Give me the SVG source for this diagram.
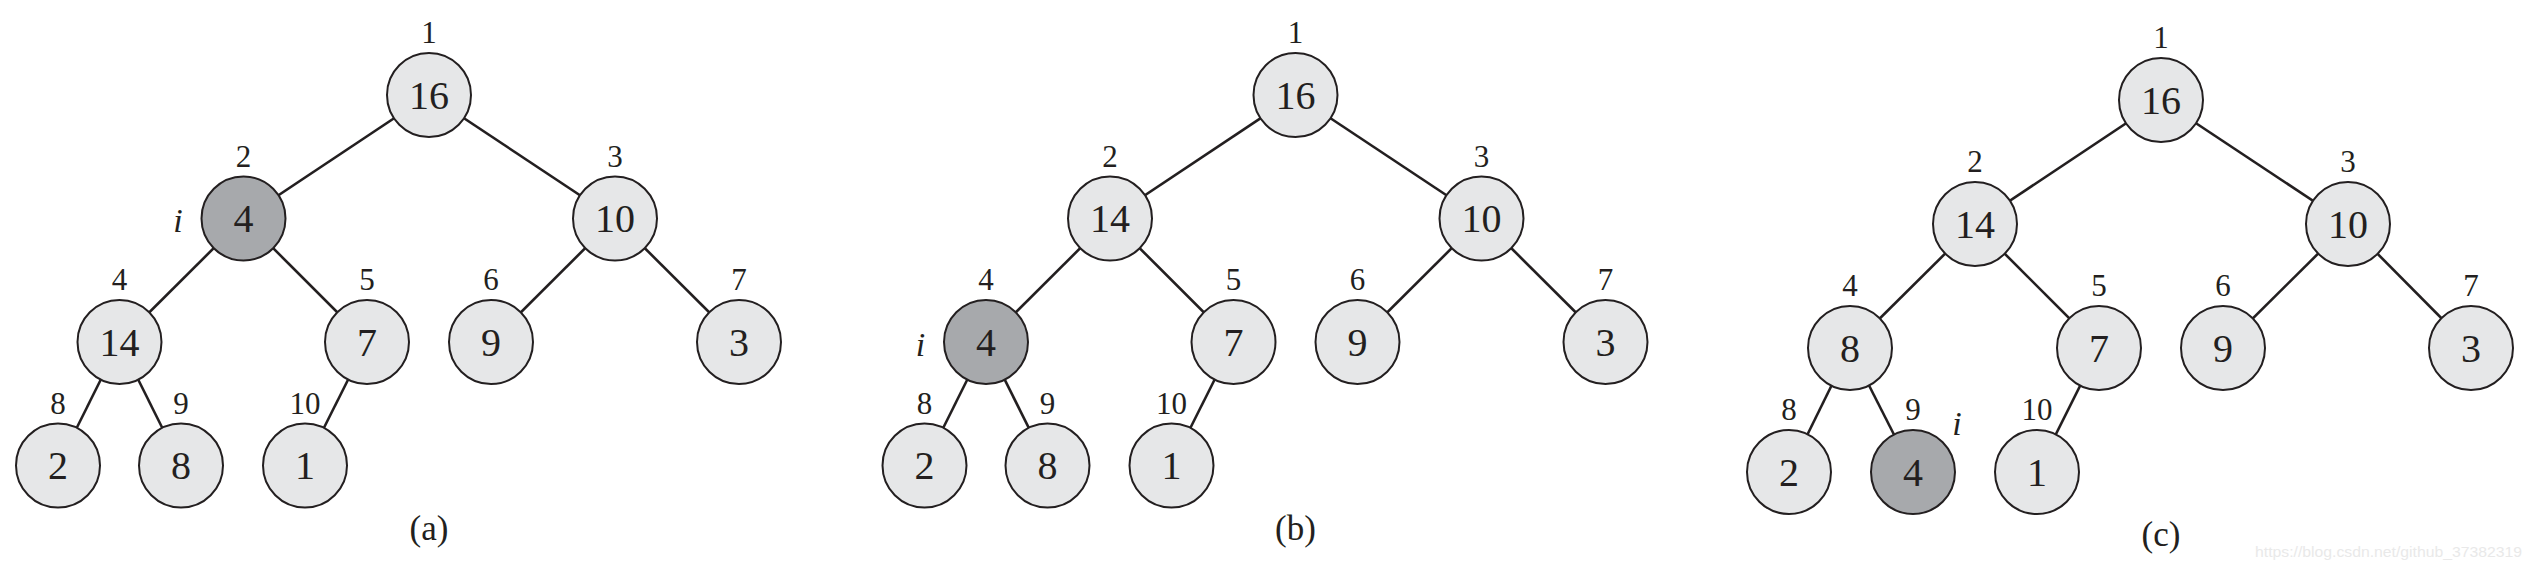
<svg xmlns="http://www.w3.org/2000/svg" width="2533" height="571" viewBox="0 0 2533 571">
<style>
.e{stroke:#231f20;stroke-width:2.6;fill:none}
.c{fill:#e6e7e8;stroke:#231f20;stroke-width:2}
.d{fill:#a7a9ac;stroke:#231f20;stroke-width:2}
.v{font-family:"Liberation Serif",serif;font-size:40px;fill:#231f20;text-anchor:middle}
.l{font-family:"Liberation Serif",serif;font-size:31px;fill:#231f20;text-anchor:middle}
.i{font-family:"Liberation Serif",serif;font-size:34px;font-style:italic;fill:#231f20;text-anchor:middle}
.cap{font-family:"Liberation Serif",serif;font-size:35px;fill:#231f20;text-anchor:middle}
.w{font-family:"Liberation Sans",sans-serif;font-size:15px;fill:#e9e9e9}
</style>
<rect width="2533" height="571" fill="#ffffff"/>

<!-- Tree (a) -->
<g id="tree-a">
<g id="a-connectors">
<line class="e" x1="429" y1="95" x2="243.5" y2="218.5"/>
<line class="e" x1="429" y1="95" x2="615" y2="218.5"/>
<line class="e" x1="243.5" y1="218.5" x2="119.5" y2="342"/>
<line class="e" x1="243.5" y1="218.5" x2="367" y2="342"/>
<line class="e" x1="615" y1="218.5" x2="491" y2="342"/>
<line class="e" x1="615" y1="218.5" x2="739" y2="342"/>
<line class="e" x1="119.5" y1="342" x2="58" y2="465.5"/>
<line class="e" x1="119.5" y1="342" x2="181" y2="465.5"/>
<line class="e" x1="367" y1="342" x2="305" y2="465.5"/>
</g>
<g id="a-n1"><circle class="c" cx="429" cy="95" r="42"/><text class="v" x="429" y="108.5">16</text><text class="l" x="429" y="43">1</text></g>
<g id="a-n2"><circle class="d" cx="243.5" cy="218.5" r="42"/><text class="v" x="243.5" y="232">4</text><text class="l" x="243.5" y="166.5">2</text><text class="i" x="178" y="232">i</text></g>
<g id="a-n3"><circle class="c" cx="615" cy="218.5" r="42"/><text class="v" x="615" y="232">10</text><text class="l" x="615" y="166.5">3</text></g>
<g id="a-n4"><circle class="c" cx="119.5" cy="342" r="42"/><text class="v" x="119.5" y="355.5">14</text><text class="l" x="119.5" y="290">4</text></g>
<g id="a-n5"><circle class="c" cx="367" cy="342" r="42"/><text class="v" x="367" y="355.5">7</text><text class="l" x="367" y="290">5</text></g>
<g id="a-n6"><circle class="c" cx="491" cy="342" r="42"/><text class="v" x="491" y="355.5">9</text><text class="l" x="491" y="290">6</text></g>
<g id="a-n7"><circle class="c" cx="739" cy="342" r="42"/><text class="v" x="739" y="355.5">3</text><text class="l" x="739" y="290">7</text></g>
<g id="a-n8"><circle class="c" cx="58" cy="465.5" r="42"/><text class="v" x="58" y="479">2</text><text class="l" x="58" y="413.5">8</text></g>
<g id="a-n9"><circle class="c" cx="181" cy="465.5" r="42"/><text class="v" x="181" y="479">8</text><text class="l" x="181" y="413.5">9</text></g>
<g id="a-n10"><circle class="c" cx="305" cy="465.5" r="42"/><text class="v" x="305" y="479">1</text><text class="l" x="305" y="413.5">10</text></g>
<text class="cap" x="429" y="540">(a)</text>
</g>

<!-- Tree (b) -->
<g id="tree-b">
<g id="b-connectors">
<line class="e" x1="1295.5" y1="95" x2="1110" y2="218.5"/>
<line class="e" x1="1295.5" y1="95" x2="1481.5" y2="218.5"/>
<line class="e" x1="1110" y1="218.5" x2="986" y2="342"/>
<line class="e" x1="1110" y1="218.5" x2="1233.5" y2="342"/>
<line class="e" x1="1481.5" y1="218.5" x2="1357.5" y2="342"/>
<line class="e" x1="1481.5" y1="218.5" x2="1605.5" y2="342"/>
<line class="e" x1="986" y1="342" x2="924.5" y2="465.5"/>
<line class="e" x1="986" y1="342" x2="1047.5" y2="465.5"/>
<line class="e" x1="1233.5" y1="342" x2="1171.5" y2="465.5"/>
</g>
<g id="b-n1"><circle class="c" cx="1295.5" cy="95" r="42"/><text class="v" x="1295.5" y="108.5">16</text><text class="l" x="1295.5" y="43">1</text></g>
<g id="b-n2"><circle class="c" cx="1110" cy="218.5" r="42"/><text class="v" x="1110" y="232">14</text><text class="l" x="1110" y="166.5">2</text></g>
<g id="b-n3"><circle class="c" cx="1481.5" cy="218.5" r="42"/><text class="v" x="1481.5" y="232">10</text><text class="l" x="1481.5" y="166.5">3</text></g>
<g id="b-n4"><circle class="d" cx="986" cy="342" r="42"/><text class="v" x="986" y="355.5">4</text><text class="l" x="986" y="290">4</text><text class="i" x="920.5" y="356">i</text></g>
<g id="b-n5"><circle class="c" cx="1233.5" cy="342" r="42"/><text class="v" x="1233.5" y="355.5">7</text><text class="l" x="1233.5" y="290">5</text></g>
<g id="b-n6"><circle class="c" cx="1357.5" cy="342" r="42"/><text class="v" x="1357.5" y="355.5">9</text><text class="l" x="1357.5" y="290">6</text></g>
<g id="b-n7"><circle class="c" cx="1605.5" cy="342" r="42"/><text class="v" x="1605.5" y="355.5">3</text><text class="l" x="1605.5" y="290">7</text></g>
<g id="b-n8"><circle class="c" cx="924.5" cy="465.5" r="42"/><text class="v" x="924.5" y="479">2</text><text class="l" x="924.5" y="413.5">8</text></g>
<g id="b-n9"><circle class="c" cx="1047.5" cy="465.5" r="42"/><text class="v" x="1047.5" y="479">8</text><text class="l" x="1047.5" y="413.5">9</text></g>
<g id="b-n10"><circle class="c" cx="1171.5" cy="465.5" r="42"/><text class="v" x="1171.5" y="479">1</text><text class="l" x="1171.5" y="413.5">10</text></g>
<text class="cap" x="1295.5" y="540">(b)</text>
</g>

<!-- Tree (c) -->
<g id="tree-c">
<g id="c-connectors">
<line class="e" x1="2161" y1="100" x2="1975" y2="224"/>
<line class="e" x1="2161" y1="100" x2="2348" y2="224"/>
<line class="e" x1="1975" y1="224" x2="1850" y2="348"/>
<line class="e" x1="1975" y1="224" x2="2099" y2="348"/>
<line class="e" x1="2348" y1="224" x2="2223" y2="348"/>
<line class="e" x1="2348" y1="224" x2="2471" y2="348"/>
<line class="e" x1="1850" y1="348" x2="1789" y2="472"/>
<line class="e" x1="1850" y1="348" x2="1913" y2="472"/>
<line class="e" x1="2099" y1="348" x2="2037" y2="472"/>
</g>
<g id="c-n1"><circle class="c" cx="2161" cy="100" r="42"/><text class="v" x="2161" y="113.5">16</text><text class="l" x="2161" y="48">1</text></g>
<g id="c-n2"><circle class="c" cx="1975" cy="224" r="42"/><text class="v" x="1975" y="237.5">14</text><text class="l" x="1975" y="172">2</text></g>
<g id="c-n3"><circle class="c" cx="2348" cy="224" r="42"/><text class="v" x="2348" y="237.5">10</text><text class="l" x="2348" y="172">3</text></g>
<g id="c-n4"><circle class="c" cx="1850" cy="348" r="42"/><text class="v" x="1850" y="361.5">8</text><text class="l" x="1850" y="296">4</text></g>
<g id="c-n5"><circle class="c" cx="2099" cy="348" r="42"/><text class="v" x="2099" y="361.5">7</text><text class="l" x="2099" y="296">5</text></g>
<g id="c-n6"><circle class="c" cx="2223" cy="348" r="42"/><text class="v" x="2223" y="361.5">9</text><text class="l" x="2223" y="296">6</text></g>
<g id="c-n7"><circle class="c" cx="2471" cy="348" r="42"/><text class="v" x="2471" y="361.5">3</text><text class="l" x="2471" y="296">7</text></g>
<g id="c-n8"><circle class="c" cx="1789" cy="472" r="42"/><text class="v" x="1789" y="485.5">2</text><text class="l" x="1789" y="420">8</text></g>
<g id="c-n9"><circle class="d" cx="1913" cy="472" r="42"/><text class="v" x="1913" y="485.5">4</text><text class="l" x="1913" y="420">9</text><text class="i" x="1957" y="435">i</text></g>
<g id="c-n10"><circle class="c" cx="2037" cy="472" r="42"/><text class="v" x="2037" y="485.5">1</text><text class="l" x="2037" y="420">10</text></g>
<text class="cap" x="2161" y="546">(c)</text>
</g>

<text class="w" x="2255" y="557" textLength="267" lengthAdjust="spacingAndGlyphs">https://blog.csdn.net/github_37382319</text>
</svg>
